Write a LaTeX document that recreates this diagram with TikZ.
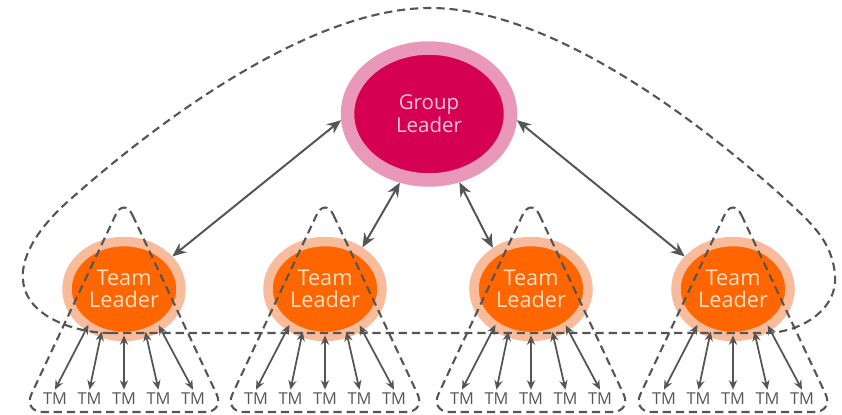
\documentclass[tikz,border=0pt]{standalone}
\usepackage{fontspec}
\setmainfont{Open Sans}
\usetikzlibrary{shapes.geometric,arrows.meta}

\definecolor{glring}{RGB}{234,152,186}
\definecolor{glfill}{RGB}{214,0,82}
\definecolor{gltext}{RGB}{246,196,218}
\definecolor{tlring}{RGB}{248,188,156}
\definecolor{tlfill}{RGB}{255,102,0}
\definecolor{tltext}{RGB}{255,222,196}
\definecolor{linegray}{RGB}{85,85,85}

\tikzset{
  groupleader/.style={ellipse, draw=glring, fill=glfill, line width=0.405cm,
    minimum width=4.89cm, minimum height=3.96cm, inner sep=0pt, align=center,
    text=gltext, font=\fontsize{17.5}{19.5}\selectfont},
  teamleader/.style={ellipse, draw=tlring, fill=tlfill, line width=0.285cm,
    minimum width=3.42cm, minimum height=2.85cm, inner sep=0pt, align=center,
    text=tltext, font=\fontsize{18.5}{18.5}\selectfont},
  member/.style={inner sep=3pt, outer sep=0pt, text=linegray,
    font=\fontsize{14}{15}\selectfont},
  boundary/.style={draw=linegray, line width=1.8pt, dash pattern=on 7pt off 4.2pt},
  bigarrow/.style={draw=linegray, line width=1.7pt, {Stealth[length=12pt,width=10pt]}-{Stealth[length=12pt,width=10pt]}},
  smallarrow/.style={draw=linegray, line width=1.5pt, shorten <=-5pt, {Stealth[length=8pt,width=7pt]}-{Stealth[length=8pt,width=7pt]}}
}

\begin{document}
\begin{tikzpicture}[x=0.03cm, y=-0.03cm]
  \useasboundingbox (0,0) rectangle (842,414);

  % group leader on top
  \node[groupleader] (gl) at (429,114) {Group\\Leader};

  % team leaders and their members
  \foreach \n/\x in {1/124, 2/325, 3/531, 4/733}{%
    \node[teamleader] (tl\n) at (\x,289) {Team\\Leader};
    \foreach \m in {1,...,5}{%
      \node[member] (tm\n\m) at ({\x+(\m-3)*34.5},399) {TM};
    }
    % rounded triangle round each team
    \draw[boundary, rounded corners=17pt] (\x,197) -- (\x+101,412) -- (\x-101,412) -- cycle;
  }

  % outline round the group leader and all team leaders
  \draw[boundary] (110,333) -- (765,333)
    .. controls (800,333) and (838,310) .. (835,275)
    .. controls (832,240) and (810,222) .. (783,197)
    .. controls (720,140) and (560,8) .. (430,8)
    .. controls (300,8) and (135,142) .. (73,197)
    .. controls (40,225) and (15,260) .. (25,290)
    .. controls (35,320) and (80,333) .. cycle;

  % group leader <-> team leaders
  \foreach \n/\ga/\ta in {1/184/34, 2/247/48, 3/294/133, 4/356/146}{%
    \draw[bigarrow] (gl.\ga) -- (tl\n.\ta);
  }

  % team leaders <-> members
  \foreach \n in {1,...,4}{%
    \foreach \m/\a in {1/227, 2/244, 3/270, 4/295, 5/312}{%
      \draw[smallarrow] (tl\n.\a) -- (tm\n\m.north);
    }
  }
\end{tikzpicture}
\end{document}
